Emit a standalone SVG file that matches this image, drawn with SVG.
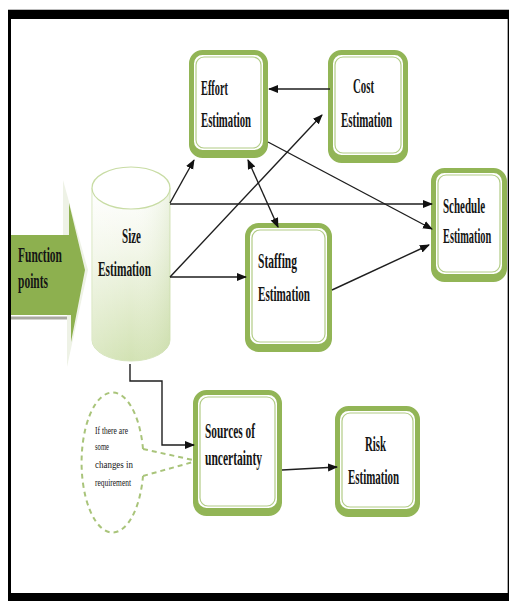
<svg xmlns="http://www.w3.org/2000/svg" width="509" height="601" viewBox="0 0 509 601">
<defs>
<style>
.box{fill:#fff;stroke:#92b556;stroke-width:5}
.sh{fill:#92b556;stroke:#92b556;stroke-width:5}
.inner{fill:none;stroke:#b2cc86;stroke-width:1.2}
.lbl{font-family:"Liberation Serif","Times New Roman",serif;font-size:22px;font-weight:bold;fill:#151515}
.small{font-family:"Liberation Serif","Times New Roman",serif;font-size:11px;fill:#151515}
.con{fill:none;stroke:#1e1e1e;stroke-width:1.4}
</style>
<marker id="ah" markerUnits="userSpaceOnUse" markerWidth="10" markerHeight="10" viewBox="0 0 10 10" refX="9" refY="5" orient="auto-start-reverse">
<path d="M0,1 L10,5 L0,9 Z" fill="#111"/>
</marker>
<linearGradient id="cyl" x1="0" y1="0" x2="0" y2="1">
<stop offset="0" stop-color="#ffffff"/>
<stop offset="0.35" stop-color="#f3f7ea"/>
<stop offset="1" stop-color="#d2e2b3"/>
</linearGradient>
<linearGradient id="cylh" x1="0" y1="0" x2="1" y2="0">
<stop offset="0" stop-color="#ffffff" stop-opacity="0.2"/>
<stop offset="0.5" stop-color="#ffffff" stop-opacity="0"/>
<stop offset="1" stop-color="#b9cf92" stop-opacity="0.25"/>
</linearGradient>
</defs>

<g id="frame">
<rect x="8" y="10" width="501" height="591" fill="#000"/>
<rect x="11" y="19" width="496" height="574" fill="#fff"/>
<line x1="507.5" y1="19" x2="507.5" y2="593" stroke="#aaa" stroke-width="1"/>
<line x1="8" y1="9.5" x2="509" y2="9.5" stroke="#bbb" stroke-width="1"/>
</g>

<g id="function-points">
<polygon points="11,235 63,235 63,180 88,270 67,367 67,315 11,315" fill="#eef2e6"/>
<polygon points="11,235 69,235 69,203 85,270 71,342 71,315 11,315" fill="#8db04f"/>
<line x1="11" y1="318" x2="67" y2="318" stroke="#a9a9a0" stroke-width="3"/>
<text class="lbl" x="18" y="262" textLength="44" lengthAdjust="spacingAndGlyphs">Function</text>
<text class="lbl" x="18" y="288" textLength="30" lengthAdjust="spacingAndGlyphs">points</text>
</g>

<g id="size-estimation">
<path d="M92,188 L92,340 A39,21 0 0 0 170,340 L170,188 Z" fill="url(#cyl)" stroke="#d5e4bb" stroke-width="1"/>
<path d="M92,188 L92,340 A39,21 0 0 0 170,340 L170,188 Z" fill="url(#cylh)"/>
<ellipse cx="131" cy="188" rx="39" ry="21" fill="#fff" stroke="#c8dca4" stroke-width="1.2"/>
<text class="lbl" x="122" y="243" textLength="19" lengthAdjust="spacingAndGlyphs">Size</text>
<text class="lbl" x="98" y="276" textLength="53" lengthAdjust="spacingAndGlyphs">Estimation</text>
</g>

<g id="effort-estimation">
<rect class="sh" x="191.5" y="55.5" width="74" height="100" rx="11"/>
<rect class="box" x="191.5" y="52.5" width="74" height="100" rx="11"/>
<rect class="inner" x="196" y="57" width="65" height="91" rx="8"/>
<text class="lbl" x="201" y="95" textLength="27" lengthAdjust="spacingAndGlyphs">Effort</text>
<text class="lbl" x="201" y="127" textLength="50" lengthAdjust="spacingAndGlyphs">Estimation</text>
</g>

<g id="cost-estimation">
<rect class="sh" x="330.5" y="55.5" width="75" height="105" rx="11"/>
<rect class="box" x="330.5" y="52.5" width="75" height="105" rx="11"/>
<rect class="inner" x="335" y="57" width="66" height="96" rx="8"/>
<text class="lbl" x="353" y="93" textLength="21" lengthAdjust="spacingAndGlyphs">Cost</text>
<text class="lbl" x="341" y="127" textLength="51" lengthAdjust="spacingAndGlyphs">Estimation</text>
</g>

<g id="schedule-estimation">
<rect class="sh" x="433.5" y="173.5" width="71" height="106" rx="11"/>
<rect class="box" x="433.5" y="170.5" width="71" height="106" rx="11"/>
<rect class="inner" x="438" y="175" width="62" height="97" rx="8"/>
<text class="lbl" transform="translate(443,213) scale(0.5,1)">Schedule</text>
<text class="lbl" transform="translate(443,243) scale(0.47,1)">Estimation</text>
</g>

<g id="staffing-estimation">
<rect class="sh" x="247.5" y="228.5" width="82" height="121" rx="11"/>
<rect class="box" x="247.5" y="225.5" width="82" height="121" rx="11"/>
<rect class="inner" x="252" y="230" width="73" height="112" rx="8"/>
<text class="lbl" x="258" y="268" textLength="39" lengthAdjust="spacingAndGlyphs">Staffing</text>
<text class="lbl" x="258" y="301" textLength="52" lengthAdjust="spacingAndGlyphs">Estimation</text>
</g>

<g id="sources-of-uncertainty">
<rect class="sh" x="195.5" y="395.5" width="84" height="118" rx="11"/>
<rect class="box" x="195.5" y="392.5" width="84" height="118" rx="11"/>
<rect class="inner" x="200" y="397" width="75" height="109" rx="8"/>
<text class="lbl" x="205" y="438" textLength="50" lengthAdjust="spacingAndGlyphs">Sources of</text>
<text class="lbl" x="205" y="465" textLength="57" lengthAdjust="spacingAndGlyphs">uncertainty</text>
</g>

<g id="risk-estimation">
<rect class="sh" x="337.5" y="411.5" width="80" height="103" rx="11"/>
<rect class="box" x="337.5" y="408.5" width="80" height="103" rx="11"/>
<rect class="inner" x="342" y="413" width="71" height="94" rx="8"/>
<text class="lbl" x="365" y="451" textLength="21" lengthAdjust="spacingAndGlyphs">Risk</text>
<text class="lbl" x="348" y="484" textLength="51" lengthAdjust="spacingAndGlyphs">Estimation</text>
</g>

<g id="requirement-callout">
<path d="M143,449 A31,70 0 1 0 143,476 M143,449 L193,460 M143,476 L193,462" fill="none" stroke="#a9c47a" stroke-width="2" stroke-dasharray="5,4"/>
<text class="small" x="95" y="434" textLength="33" lengthAdjust="spacingAndGlyphs">If there are</text>
<text class="small" x="95" y="450" textLength="14" lengthAdjust="spacingAndGlyphs">some</text>
<text class="small" x="95" y="468" textLength="38" lengthAdjust="spacingAndGlyphs">changes in</text>
<text class="small" x="95" y="486" textLength="36" lengthAdjust="spacingAndGlyphs">requirement</text>
</g>

<g id="connectors">
<line class="con" x1="330" y1="89" x2="269" y2="89" marker-end="url(#ah)"/>
<line class="con" x1="170" y1="203" x2="194" y2="160" marker-end="url(#ah)"/>
<line class="con" x1="170" y1="277" x2="322" y2="115" marker-end="url(#ah)"/>
<line class="con" x1="248" y1="160" x2="278" y2="227" marker-start="url(#ah)" marker-end="url(#ah)"/>
<line class="con" x1="268" y1="142" x2="432" y2="229" marker-end="url(#ah)"/>
<line class="con" x1="170" y1="204" x2="432" y2="204" marker-end="url(#ah)"/>
<line class="con" x1="170" y1="277" x2="246" y2="277" marker-end="url(#ah)"/>
<line class="con" x1="332" y1="290" x2="429" y2="245" marker-end="url(#ah)"/>
<polyline class="con" points="130,364 130,381 162,381 162,445 194,445" marker-end="url(#ah)"/>
<line class="con" x1="282" y1="470" x2="337" y2="467" marker-end="url(#ah)"/>
</g>
</svg>
